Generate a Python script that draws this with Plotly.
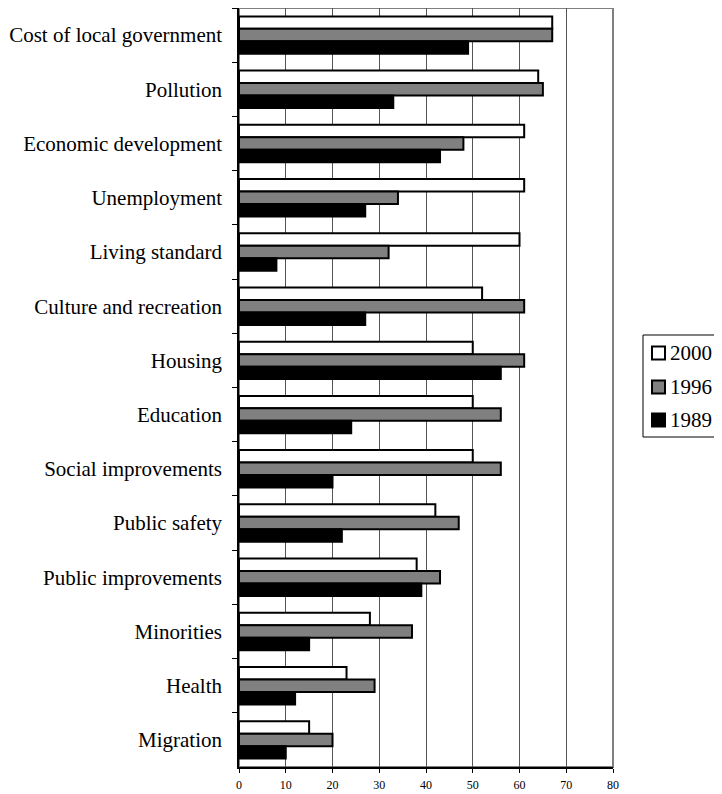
import plotly.graph_objects as go

categories = [
    "Cost of local government",
    "Pollution",
    "Economic development",
    "Unemployment",
    "Living standard",
    "Culture and recreation",
    "Housing",
    "Education",
    "Social improvements",
    "Public safety",
    "Public improvements",
    "Minorities",
    "Health",
    "Migration",
]
values_2000 = [67, 64, 61, 61, 60, 52, 50, 50, 50, 42, 38, 28, 23, 15]
values_1996 = [67, 65, 48, 34, 32, 61, 61, 56, 56, 47, 43, 37, 29, 20]
values_1989 = [49, 33, 43, 27, 8, 27, 56, 24, 20, 22, 39, 15, 12, 10]
x_ticks = [0, 10, 20, 30, 40, 50, 60, 70, 80]

series = [
    ("2000", values_2000, "white"),
    ("1996", values_1996, "#808080"),
    ("1989", values_1989, "black"),
]

FONT = "Liberation Serif, Times New Roman, serif"

# the page body has an 8px margin, so the figure is shrunk to fit the window
W, H = 714, 786
ML, MR, MT, MB = 231, 109, 0, 27
plot_w = W - ML - MR
plot_h = H - MT - MB


def px(x):
    # page pixel -> paper x
    return (x - 8 - ML) / plot_w


def py(y):
    # page pixel -> paper y
    return 1 - (y - 8 - MT) / plot_h


fig = go.Figure()
for name, vals, color in series:
    fig.add_trace(
        go.Bar(
            y=categories,
            x=vals,
            name=name,
            orientation="h",
            marker=dict(color=color, line=dict(color="black", width=2)),
            showlegend=False,
        )
    )

# grey frame round the plot area (top and right sides)
fig.add_shape(
    type="rect",
    xref="x domain", yref="y domain",
    x0=0, x1=1, y0=0, y1=1,
    line=dict(color="#808080", width=2),
    layer="below",
)

# hand-drawn legend, like the spreadsheet one
fig.add_shape(
    type="rect", xref="paper", yref="paper",
    x0=px(643), x1=px(721), y0=py(437), y1=py(335),
    line=dict(color="black", width=1), fillcolor="white",
)
legend_y = [353, 387, 420]
for (name, _, color), ly in zip(series, legend_y):
    fig.add_shape(
        type="rect", xref="paper", yref="paper",
        x0=px(652), x1=px(665), y0=py(ly + 6.5), y1=py(ly - 6.5),
        line=dict(color="black", width=2), fillcolor=color,
    )
    fig.add_annotation(
        xref="paper", yref="paper", x=px(668), y=py(ly),
        text=name, showarrow=False, xanchor="left", yanchor="middle",
        font=dict(size=21, family=FONT, color="black"),
    )

fig.update_layout(
    width=W,
    height=H,
    margin=dict(l=ML, r=MR, t=MT, b=MB),
    paper_bgcolor="white",
    plot_bgcolor="white",
    barmode="group",
    bargap=0.31,
    bargroupgap=0,
    showlegend=False,
    font=dict(family=FONT, color="black"),
    xaxis=dict(
        range=[0, 80],
        tickvals=x_ticks,
        ticks="outside",
        ticklen=4,
        tickcolor="black",
        tickfont=dict(size=12),
        ticklabelstandoff=2,
        showgrid=True,
        gridcolor="#555555",
        gridwidth=1,
        showline=True,
        linecolor="black",
        linewidth=1.5,
        zeroline=False,
    ),
    yaxis=dict(
        categoryorder="array",
        categoryarray=categories,
        autorange="reversed",
        ticks="outside",
        tickson="boundaries",
        ticklen=5,
        tickcolor="black",
        tickfont=dict(size=21),
        showgrid=False,
        showline=True,
        linecolor="black",
        linewidth=1.5,
        ticklabelstandoff=11,
    ),
)

fig.write_html("out.html")
